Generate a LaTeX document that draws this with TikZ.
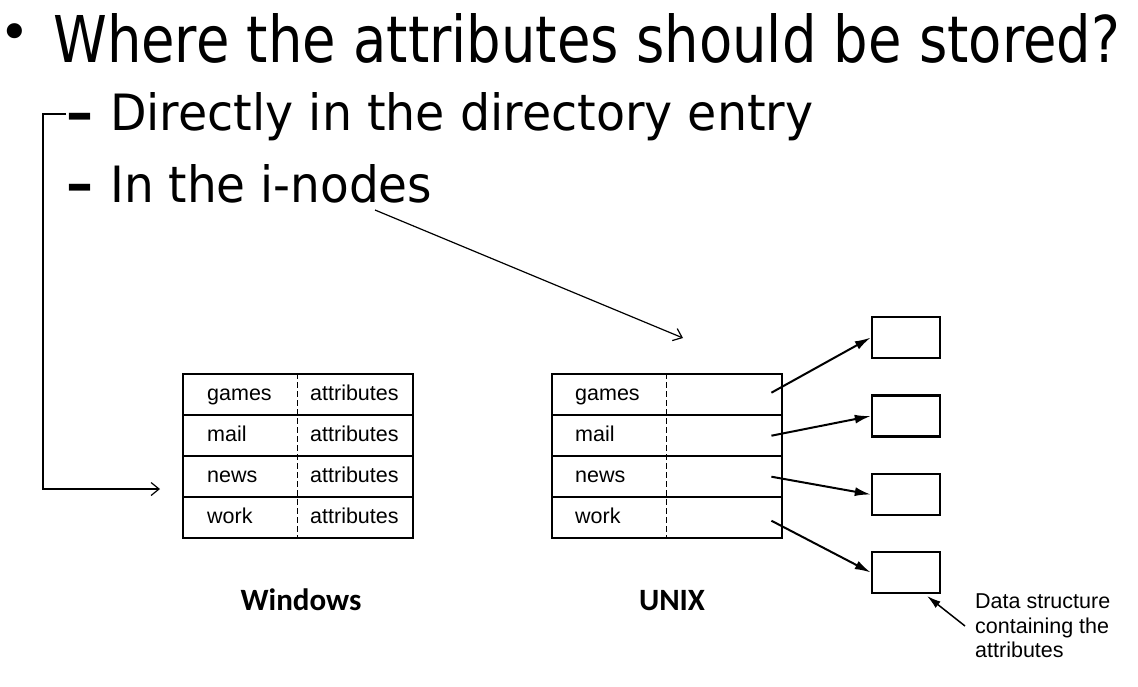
\documentclass[tikz,border=0pt]{standalone}
\usepackage{fontspec}
\setmainfont{Liberation Sans}
\newfontfamily\comic{DejaVu Sans}
\newfontfamily\calib{Carlito}
\usetikzlibrary{arrows.meta,calc}
\begin{document}
\begin{tikzpicture}[x=1pt,y=-1pt,
  row/.style={draw,line width=2.4pt,minimum width=230pt,minimum height=41pt,anchor=north west,inner sep=0pt},
  dbox/.style={draw,line width=2.4pt,minimum width=68pt,minimum height=41pt,inner sep=0pt},
  cell/.style={anchor=base west,inner sep=0pt,font=\fontsize{21.5}{24.5}\selectfont},
  divider/.style={line width=1pt,dash pattern=on 6pt off 3pt},
  ptr/.style={line width=2pt,-{Latex[length=16pt,width=9pt]}},
  open/.style={line width=1.2pt,-{Straight Barb[length=8pt,width=13pt]}},
  lbl/.style={anchor=base,inner sep=0pt,font=\calib\bfseries\fontsize{31}{34}\selectfont},
  dashmark/.style={anchor=base west,inner sep=0pt,font=\comic\bfseries\fontsize{54}{54}\selectfont}]
\useasboundingbox (0,0) rectangle (1138,686);
% heading
\node[anchor=center,inner sep=0pt,font=\comic\fontsize{52}{52}\selectfont] (bul) at (15,37) {•};
\node[anchor=base west,inner sep=0pt] (t1) at (53,62) {\resizebox{1067pt}{49pt}{\comic Where the attributes should be stored?}};
\node[dashmark] (d2) at (66,131) {–};
\node[anchor=base west,inner sep=0pt] (t2) at (110,130) {\resizebox{703pt}{38pt}{\comic Directly in the directory entry}};
\node[dashmark] (d3) at (66,202) {–};
\node[anchor=base west,inner sep=0pt] (t3) at (110,202) {\resizebox{322pt}{38pt}{\comic In the i-nodes}};
% Windows table
\node[row] (wg) at (182,373) {};
\node[row] (wm) at (182,414) {};
\node[row] (wn) at (182,455) {};
\node[row] (ww) at (182,496) {};
\draw[divider] (297,373) -- (297,537);
\node[cell] (wg1) at (207,400) {games};
\node[cell] (wm1) at (207,441) {mail};
\node[cell] (wn1) at (207,482) {news};
\node[cell] (ww1) at (207,523) {work};
\node[cell] (wg2) at (310,400) {attributes};
\node[cell] (wm2) at (310,441) {attributes};
\node[cell] (wn2) at (310,482) {attributes};
\node[cell] (ww2) at (310,523) {attributes};
% UNIX table
\node[row] (ug) at (551,373) {};
\node[row] (um) at (551,414) {};
\node[row] (un) at (551,455) {};
\node[row] (uw) at (551,496) {};
\draw[divider] (666,373) -- (666,537);
\node[cell] (ug1) at (575,400) {games};
\node[cell] (um1) at (575,441) {mail};
\node[cell] (un1) at (575,482) {news};
\node[cell] (uw1) at (575,523) {work};
% attribute boxes
\node[dbox] (b1) at (906,337.5) {};
\node[dbox] (b2) at (906,416) {};
\node[dbox] (b3) at (906,494.5) {};
\node[dbox] (b4) at (906,572.5) {};
\draw[ptr] ($(ug.east)+(-12,-2)$) -- (b1.west);
\draw[ptr] ($(um.east)+(-12,0)$) -- (b2.west);
\draw[ptr] ($(un.east)+(-12,0)$) -- (b3.west);
\draw[ptr] ($(uw.east)+(-12,3)$) -- (b4.west);
% labels
\node[lbl] (wl) at (301,610) {Windows};
\node[lbl] (ul) at (672,610) {UNIX};
\node[anchor=west,inner sep=0pt,align=left,font=\fontsize{21.5}{24.5}\selectfont] (ds) at (975,626) {Data structure\\containing the\\attributes};
\coordinate (dstip) at (927,596);
\draw[line width=1.5pt,-{Latex[length=14pt,width=8pt]}] ($(ds.west)+(-10,0)$) -- (dstip);
% connectors from the bullet text
\coordinate (wtip) at (160,489);
\coordinate (utip) at (683,338);
\draw[open] (d2.west |- 0,114) -- (43,114) |- (wtip);
\coordinate (inodes) at (375,210);
\draw[open] (inodes) -- (utip);
\end{tikzpicture}
\end{document}
